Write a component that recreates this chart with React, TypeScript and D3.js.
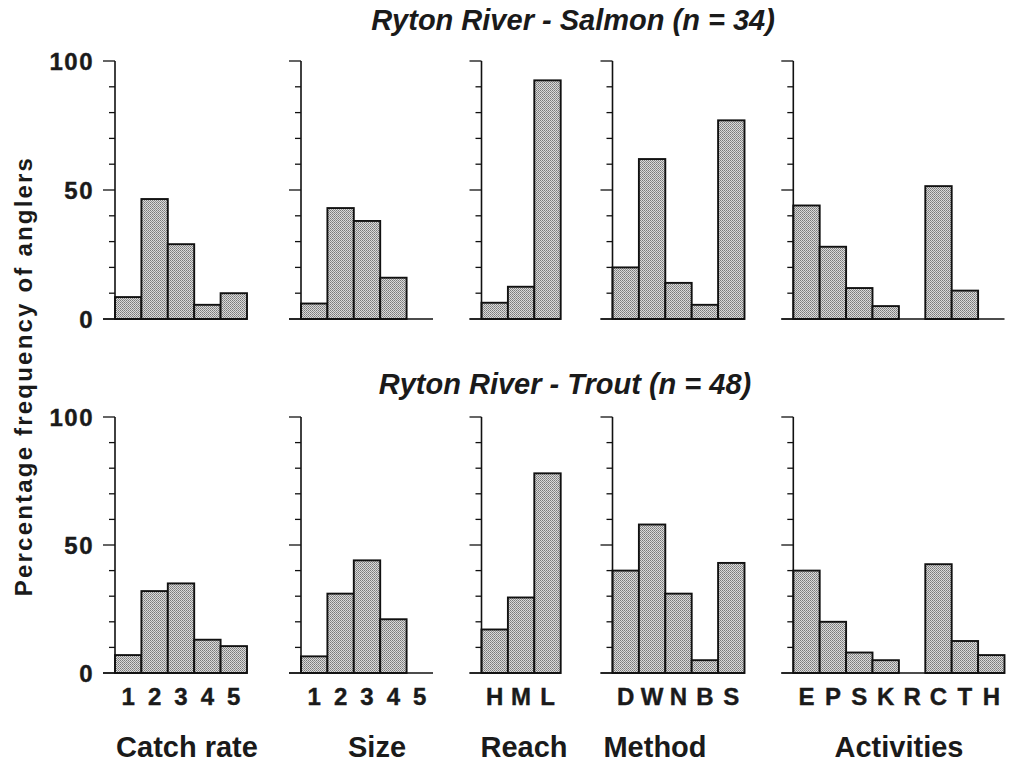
import React from "react";
import * as d3 from "d3";

// Category labels for each panel
const catchRateCats = ["1", "2", "3", "4", "5"];
const sizeCats = ["1", "2", "3", "4", "5"];
const reachCats = ["H", "M", "L"];
const methodCats = ["D", "W", "N", "B", "S"];
const activityCats = ["E", "P", "S", "K", "R", "C", "T", "H"];

const panelTitles = ["Catch rate", "Size", "Reach", "Method", "Activities"];
const rowTitles = ["Ryton River - Salmon (n = 34)", "Ryton River - Trout (n = 48)"];
const yTickLabels = [0, 50, 100];

// Percentage frequency of anglers — salmon
const salmonCatchRate = [8.5, 46.5, 29, 5.5, 10];
const salmonSize = [6, 43, 38, 16, 0];
const salmonReach = [6.3, 12.5, 92.5];
const salmonMethod = [20, 62, 14, 5.5, 77];
const salmonActivities = [44, 28, 12, 5, 0, 51.5, 11, 0];

// Percentage frequency of anglers — trout
const troutCatchRate = [7, 32, 35, 13, 10.5];
const troutSize = [6.5, 31, 44, 21, 0];
const troutReach = [17, 29.5, 78];
const troutMethod = [40, 58, 31, 5, 43];
const troutActivities = [40, 20, 8, 5, 0, 42.5, 12.5, 7];

const W = 1009;
const H = 766;
const FONT = "'Liberation Sans', Arial, Helvetica, sans-serif";

const panelCats = [catchRateCats, sizeCats, reachCats, methodCats, activityCats];
const rowValues = [
  [salmonCatchRate, salmonSize, salmonReach, salmonMethod, salmonActivities],
  [troutCatchRate, troutSize, troutReach, troutMethod, troutActivities],
];

// layout
const panelX = [115, 301, 481.5, 612.5, 793.3];
const bandW = 26.4;
const panelTitleX = [187, 377, 524, 655, 899];
const rows = [
  { y0: 319, y100: 61, titleY: 30 },
  { y0: 673, y100: 417, titleY: 394 },
];
const titleX = [573, 565];
const MAJOR = 12;
const MINOR = 6;

function Panel({ cats, values, x0, y, showY, showX, pIdx }) {
  const x = d3
    .scaleBand<string>()
    .domain(cats)
    .range([x0, x0 + cats.length * bandW])
    .padding(0);
  const ticks = d3.range(0, 101, 10);
  const [xr0, xr1] = x.range();
  return (
    <g>
      {cats.map((c, i) =>
        values[i] > 0 ? (
          <rect
            key={c}
            x={x(c)}
            y={y(values[i])}
            width={x.bandwidth()}
            height={y(0) - y(values[i])}
            fill="url(#stipple)"
            stroke="#111"
            strokeWidth={1.9}
          />
        ) : null
      )}
      <line x1={xr0} x2={xr0} y1={y(100)} y2={y(0)} stroke="#111" strokeWidth={1.6} />
      <line x1={xr0 - MAJOR} x2={xr1} y1={y(0)} y2={y(0)} stroke="#111" strokeWidth={1.6} />
      {ticks.map((t) => (
        <line
          key={t}
          x1={xr0 - (t % 50 === 0 ? MAJOR : MINOR)}
          x2={xr0}
          y1={y(t)}
          y2={y(t)}
          stroke="#111"
          strokeWidth={1.3}
        />
      ))}
      {showY &&
        yTickLabels.map((t) => (
          <text
            key={t}
            x={xr0 - 21}
            y={y(t)}
            dy="0.36em"
            textAnchor="end"
            fontFamily={FONT}
            fontWeight="bold"
            fontSize={24}
            letterSpacing={1.5}
            stroke="#1a1a1a"
            strokeWidth={0.4}
            fill="#1a1a1a"
          >
            {t}
          </text>
        ))}
      {showX &&
        cats.map((c) => (
          <text
            key={c}
            x={(x(c) as number) + x.bandwidth() / 2}
            y={705}
            textAnchor="middle"
            fontFamily={FONT}
            fontWeight="bold"
            fontSize={24}
            stroke="#1a1a1a"
            strokeWidth={0.4}
            fill="#1a1a1a"
          >
            {c}
          </text>
        ))}
      {showX && (
        <text
          x={panelTitleX[pIdx]}
          y={757}
          textAnchor="middle"
          fontFamily={FONT}
          fontWeight="bold"
          fontSize={29}
          fill="#1a1a1a"
        >
          {panelTitles[pIdx]}
        </text>
      )}
    </g>
  );
}

export default function App() {
  return (
    <svg
      width={W}
      height={H}
      viewBox={`0 0 ${W} ${H}`}
      style={{ position: "absolute", left: 0, top: 0, background: "#fff" }}
    >
      <defs>
        <pattern id="stipple" patternUnits="userSpaceOnUse" width={2} height={2}>
          <rect width={2} height={2} fill="#dadada" />
          <rect x={0} y={0} width={1} height={1} fill="#7a7a7a" />
          <rect x={1} y={1} width={1} height={1} fill="#909090" />
        </pattern>
      </defs>
      <rect width={W} height={H} fill="#fff" />
      {rows.map((r, ri) => {
        const y = d3.scaleLinear().domain([0, 100]).range([r.y0, r.y100]);
        return (
          <g key={ri}>
            <text
              x={titleX[ri]}
              y={r.titleY}
              textAnchor="middle"
              fontFamily={FONT}
              fontWeight="bold"
              fontStyle="italic"
              fontSize={29}
              fill="#1a1a1a"
            >
              {rowTitles[ri]}
            </text>
            {panelCats.map((cats, pi) => (
              <Panel
                key={pi}
                cats={cats}
                values={rowValues[ri][pi]}
                x0={panelX[pi]}
                y={y}
                showY={pi === 0}
                showX={ri === 1}
                pIdx={pi}
              />
            ))}
          </g>
        );
      })}
      <text
        transform="translate(32,376) rotate(-90)"
        textAnchor="middle"
        fontFamily={FONT}
        fontWeight="bold"
        fontSize={24}
        letterSpacing={2.2}
        fill="#1a1a1a"
      >
        Percentage frequency of anglers
      </text>
    </svg>
  );
}
